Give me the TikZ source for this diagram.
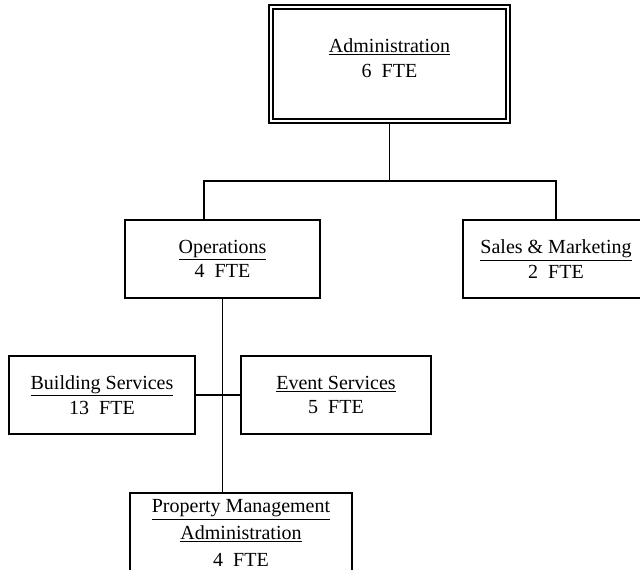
\documentclass[tikz,border=0pt]{standalone}
\usepackage{fontspec}
\setmainfont{Liberation Serif}
\usepackage{tikz}

\begin{document}
\begin{tikzpicture}[x=0.75pt, y=-0.75pt, line width=1.1pt,
		unit/.style={draw, rectangle, align=center, minimum height=58.5pt, inner sep=0pt, font=\fontsize{15}{18.5}\selectfont},
		topunit/.style={unit, double, line width=1pt, double distance=2.2pt}]
			\useasboundingbox (0, 0) rectangle (640, 569);
			\node[topunit, minimum width=177.75pt, minimum height=85.5pt, text depth=9pt] (admin) at (389.5, 64) {\underline{Administration}\\6~~FTE};
			\node[unit, minimum width=146.25pt] (ops) at (222.5, 259) {\underline{Operations}\\4~~FTE};
			\node[unit, minimum width=139.5pt] (sales) at (556, 259) {\underline{Sales \& Marketing}\\2~~FTE};
			\node[unit, minimum width=139.5pt] (bld) at (102, 395) {\underline{Building Services}\\13~~FTE};
			\node[unit, minimum width=142.5pt] (evt) at (336, 395) {\underline{Event Services}\\5~~FTE};
			\node[unit, minimum width=166.5pt, minimum height=60pt, font=\fontsize{15}{20}\selectfont] (prop) at (241, 533) {\underline{Property Management}\\\underline{Administration}\\4~~FTE};
			\coordinate (bus) at (389.5, 181);
			\coordinate (opsin) at (204, 220);
			\draw (admin.south) -- (bus);
			\draw (bus) -| (opsin);
			\draw (bus) -| (sales.north);
			\draw (ops.south) -- (ops.south |- prop.north);
			\draw (bld.east) -- (evt.west);
		\end{tikzpicture}
\end{document}
